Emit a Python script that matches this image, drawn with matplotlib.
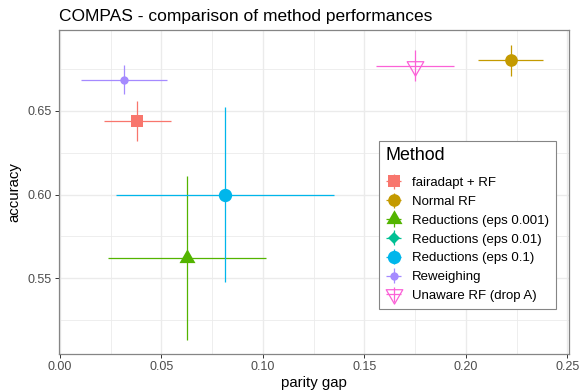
import matplotlib
matplotlib.use("Agg")
import matplotlib.pyplot as plt
from matplotlib.path import Path
from matplotlib.legend_handler import HandlerErrorbar

plt.rcParams['font.family'] = ['Liberation Sans', 'DejaVu Sans']

# Method results: mean parity gap / accuracy with their spreads
methods = ["fairadapt + RF", "Normal RF", "Reductions (eps 0.001)",
           "Reductions (eps 0.01)", "Reductions (eps 0.1)", "Reweighing",
           "Unaware RF (drop A)"]
parity_gap = [0.0382, 0.2221, 0.0627, 0.0815, 0.0815, 0.0315, 0.1747]
parity_sd = [0.0166, 0.0160, 0.0390, 0.0537, 0.0537, 0.0211, 0.0192]
accuracy = [0.6442, 0.6803, 0.5620, 0.6000, 0.6000, 0.6687, 0.6771]
accuracy_sd = [0.0120, 0.0092, 0.0490, 0.0526, 0.0526, 0.0088, 0.0093]

colors = ["#F8766D", "#C49A00", "#53B400", "#00C094", "#00B6EB", "#A58AFF", "#FB61D7"]

x_ticks = [0.00, 0.05, 0.10, 0.15, 0.20, 0.25]
x_tick_labels = ["0.00", "0.05", "0.10", "0.15", "0.20", "0.25"]
y_ticks = [0.55, 0.60, 0.65]
y_tick_labels = ["0.55", "0.60", "0.65"]

# equilateral triangles centred on their centroid
tri_up = Path([(-1.0, -0.577), (1.0, -0.577), (0.0, 1.155), (-1.0, -0.577)], closed=True)
tri_down = Path([(-1.0, 0.577), (1.0, 0.577), (0.0, -1.155), (-1.0, 0.577)], closed=True)

styles = [
    dict(marker="s", ms=8.6),
    dict(marker="o", ms=9.1),
    dict(marker=tri_up, ms=13.3),
    dict(marker="D", ms=6.5),
    dict(marker="o", ms=9.6),
    dict(marker="o", ms=6.0),
    dict(marker=tri_down, ms=13.8, open=True),
]

W, H = 582, 391
fig = plt.figure(figsize=(W / 100, H / 100), dpi=100)
ax = fig.add_axes([58.5 / W, 1 - 354 / H, 510 / W, 324 / H])

handles = []
for i, name in enumerate(methods):
    st = styles[i]
    open_marker = st.get("open", False)
    eb = ax.errorbar(parity_gap[i], accuracy[i], xerr=parity_sd[i], yerr=accuracy_sd[i],
                     linestyle="none",
                     marker=st["marker"], ms=st["ms"],
                     mfc="none" if open_marker else colors[i],
                     mec=colors[i], mew=0.9 if open_marker else 0,
                     ecolor=colors[i], elinewidth=0.9, capsize=0,
                     label=name, zorder=3)
    handles.append(eb)

ax.set_xlim(-0.0007, 0.2505)
ax.set_ylim(0.5045, 0.6985)
ax.set_xticks(x_ticks)
ax.set_xticklabels(x_tick_labels)
ax.set_yticks(y_ticks)
ax.set_yticklabels(y_tick_labels)
ax.set_xticks([0.025, 0.075, 0.125, 0.175, 0.225], minor=True)
ax.set_yticks([0.525, 0.575, 0.625, 0.675], minor=True)

ax.grid(True, which="major", color="#EBEBEB", lw=1.0, zorder=0)
ax.grid(True, which="minor", color="#EBEBEB", lw=0.6, zorder=0)
ax.set_axisbelow(True)
ax.tick_params(which="major", length=3, width=0.7, color="#333333",
               labelsize=9, labelcolor="#4D4D4D", pad=2)
ax.tick_params(which="minor", length=0)
for sp in ax.spines.values():
    sp.set_color("#858585")
    sp.set_linewidth(0.9)

ax.set_xlabel("parity gap", fontsize=10.8, labelpad=2)
ax.set_ylabel("accuracy", fontsize=10.8, labelpad=4)

fig.text(59 / W, 1 - 20.7 / H, "COMPAS - comparison of method performances",
         fontsize=12.5, ha="left", va="baseline")

leg = ax.legend(handles=handles, labels=methods, title="Method",
                loc="upper left", bbox_to_anchor=(378.7 / W, 1 - 140.7 / H),
                bbox_transform=fig.transFigure, borderaxespad=0,
                fontsize=9.5, title_fontsize=12.9, alignment="left",
                frameon=True, fancybox=False, framealpha=1,
                edgecolor="#858585", borderpad=0.5, labelspacing=0.5,
                handlelength=1.3, handletextpad=0.72,
                handler_map={type(handles[0]): HandlerErrorbar(xerr_size=0.57)})
leg.get_frame().set_linewidth(0.8)
leg._legend_box.sep = 9

# eps 0.01 coincides with eps 0.1; keep only its marker beneath so the bars stay clean
for coll in handles[3][2]:
    coll.set_visible(False)

fig.savefig("out.png", dpi=100)
